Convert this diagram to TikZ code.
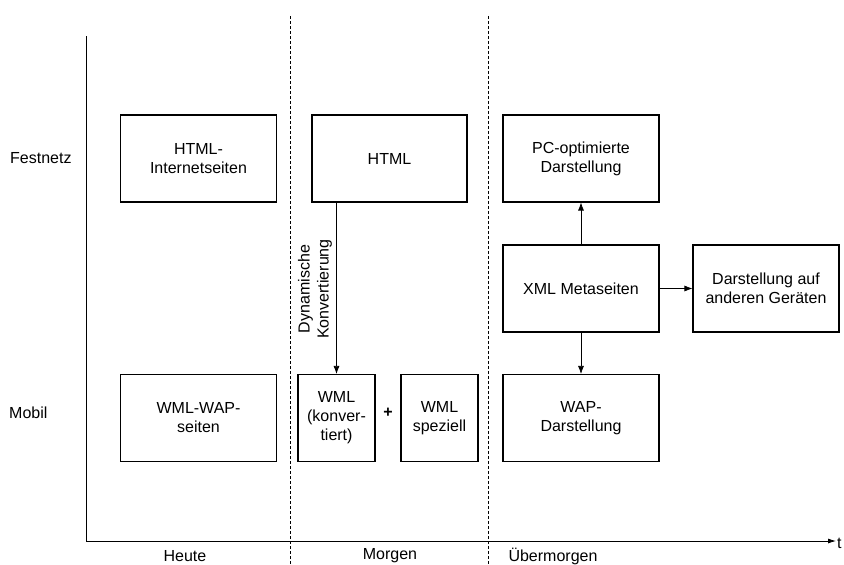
\documentclass[tikz,border=0pt]{standalone}
\usepackage{fontspec}
\setmainfont{Liberation Sans}
\usetikzlibrary{arrows.meta}
\begin{document}
\begin{tikzpicture}[x=1pt,y=-1pt,
  box/.style={draw, line width=1.1pt, align=center, inner sep=0pt, font=\fontsize{16}{19}\selectfont},
  lbl/.style={font=\fontsize{16}{19}\selectfont, inner sep=0pt},
  conn/.style={line width=0.7pt, -{Latex[length=8pt,width=6pt]}},
  sep/.style={line width=0.7pt, dash pattern=on 3pt off 2pt},
  axis/.style={line width=0.8pt}]
\useasboundingbox (0,0) rectangle (844,565);
% axes
\coordinate (ytop) at (86,36);
\coordinate (orig) at (86,541);
\coordinate (xend) at (836,541);
\draw[axis] (ytop) -- (orig);
\draw[axis, -{Latex[length=8pt,width=5pt]}] (orig) -- (xend);
\node[lbl, anchor=west] (t) at (837,543) {t};
% separators
\coordinate (s1t) at (290,16); \coordinate (s1b) at (290,565);
\coordinate (s2t) at (488,16); \coordinate (s2b) at (488,565);
\draw[sep] (s1t) -- (s1b);
\draw[sep] (s2t) -- (s2b);
% row labels
\node[lbl, anchor=west] (fest) at (10,158) {Festnetz};
\node[lbl, anchor=west] (mob) at (9,413) {Mobil};
% column labels
\node[lbl] (heute) at (185,556) {Heute};
\node[lbl] (morgen) at (390,556) {Morgen};
\node[lbl] (ueber) at (553,556) {Übermorgen};
% boxes
\node[box, minimum width=156pt, minimum height=87pt] (A) at (198.5,158.5) {HTML-\\Internetseiten};
\node[box, minimum width=155pt, minimum height=87pt] (B) at (389.5,158.5) {HTML};
\node[box, minimum width=156pt, minimum height=87pt] (C) at (581,158.5) {PC-optimierte\\Darstellung};
\node[box, minimum width=156pt, minimum height=87pt] (D) at (581,288.5) {XML Metaseiten};
\node[box, minimum width=146pt, minimum height=87pt] (E) at (766,288.5) {Darstellung auf\\anderen Geräten};
\node[box, minimum width=156pt, minimum height=87pt] (F) at (198.5,418) {WML-WAP-\\seiten};
\node[box, minimum width=77pt, minimum height=87pt] (G) at (336.5,418) {WML\\(konver-\\tiert)};
\node[box, minimum width=77pt, minimum height=87pt] (H) at (439.5,418) {WML\\speziell};
\node[box, minimum width=156pt, minimum height=87pt] (I) at (581,418) {WAP-\\Darstellung};
\node[lbl] (plus) at (388,413) {\textbf{+}};
% connectors
\draw[conn] (G.north |- B.south) -- (G.north);
\node[lbl, rotate=90, align=center] (dyn) at (315,289) {Dynamische\\Konvertierung};
\draw[conn] (D) -- (C);
\draw[conn] (D) -- (I);
\draw[conn] (D) -- (E);
\end{tikzpicture}
\end{document}
